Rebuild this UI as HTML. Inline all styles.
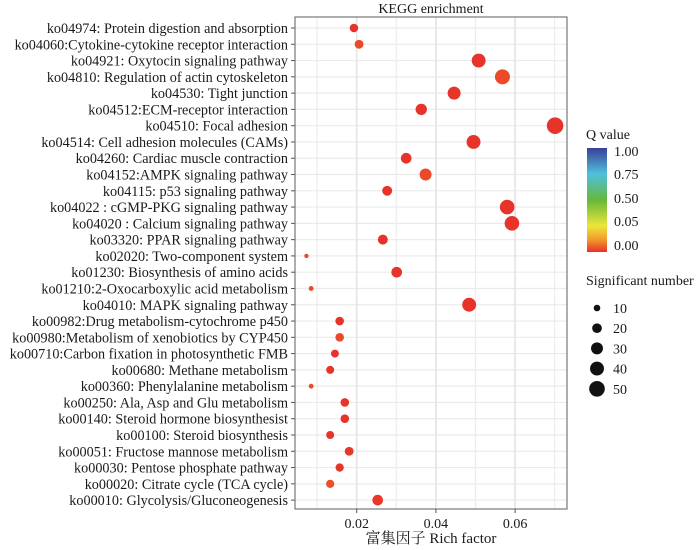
<!DOCTYPE html>
<html><head><meta charset="utf-8"><style>
body{margin:0;background:#fff}
svg text{font-family:"Liberation Serif","Noto Serif CJK SC",serif;fill:#1a1a1a}
</style></head><body>
<svg id="c" width="700" height="545" viewBox="0 0 700 545">
<defs><linearGradient id="qg" x1="0" y1="1" x2="0" y2="0">
<stop offset="0" stop-color="#e8302a"/><stop offset="0.12" stop-color="#f39a2a"/><stop offset="0.25" stop-color="#ece63a"/><stop offset="0.5" stop-color="#66b83a"/><stop offset="0.75" stop-color="#4fc0dc"/><stop offset="1" stop-color="#3a3f98"/></linearGradient></defs>
<g id="grid"></g><g id="ylab"></g><g id="xlab"></g><g id="pts"></g>
<text x="431" y="13" text-anchor="middle" font-size="14">KEGG enrichment</text>
<text x="431" y="543" text-anchor="middle" font-size="15">富集因子 Rich factor</text>
<g>
<text x="586" y="139" font-size="14">Q value</text>
<rect x="587" y="148" width="20" height="104" fill="url(#qg)"/>
<text x="614" y="156" font-size="14">1.00</text>
<text x="614" y="179" font-size="14">0.75</text>
<text x="614" y="203" font-size="14">0.50</text>
<text x="614" y="226" font-size="14">0.05</text>
<text x="614" y="250" font-size="14">0.00</text>
</g>
<g id="sizeleg">
<text x="586" y="285" font-size="14">Significant number</text>
</g>
</svg>
<script>
const categories=["ko04974: Protein digestion and absorption","ko04060:Cytokine-cytokine receptor interaction","ko04921: Oxytocin signaling pathway","ko04810: Regulation of actin cytoskeleton","ko04530: Tight junction","ko04512:ECM-receptor interaction","ko04510: Focal adhesion","ko04514: Cell adhesion molecules (CAMs)","ko04260: Cardiac muscle contraction","ko04152:AMPK signaling pathway","ko04115: p53 signaling pathway","ko04022 : cGMP-PKG signaling pathway","ko04020 : Calcium signaling pathway","ko03320: PPAR signaling pathway","ko02020: Two-component system","ko01230: Biosynthesis of amino acids","ko01210:2-Oxocarboxylic acid metabolism","ko04010: MAPK signaling pathway","ko00982:Drug metabolism-cytochrome p450","ko00980:Metabolism of xenobiotics by CYP450","ko00710:Carbon fixation in photosynthetic FMB","ko00680: Methane metabolism","ko00360: Phenylalanine metabolism","ko00250: Ala, Asp and Glu metabolism","ko00140: Steroid hormone biosynthesist","ko00100: Steroid biosynthesis","ko00051: Fructose mannose metabolism","ko00030: Pentose phosphate pathway","ko00020: Citrate cycle (TCA cycle)","ko00010: Glycolysis/Gluconeogenesis"];
const richFactor=[0.0193,0.0206,0.0508,0.0568,0.0446,0.0363,0.0701,0.0495,0.0325,0.0374,0.0277,0.058,0.0592,0.0266,0.0073,0.0301,0.0085,0.0484,0.0157,0.0157,0.0145,0.0133,0.0085,0.017,0.017,0.0133,0.0181,0.0157,0.0133,0.0253];
const counts=[16,17,40,46,35,27,56,40,24,30,21,44,44,21,5,24,6,40,16,16,14,14,6,16,16,14,17,15,15,24];
const qvalue=[0.001,0.02,0.001,0.02,0.001,0.001,0.001,0.001,0.001,0.02,0.001,0.001,0.001,0.001,0.02,0.001,0.02,0.001,0.001,0.02,0.001,0.001,0.02,0.001,0.001,0.001,0.005,0.001,0.025,0.005];
const xTicks=[0.02,0.04,0.06];
const sizeLegend=[10,20,30,40,50];
const NS='http://www.w3.org/2000/svg';
const L=295,R=567,T=17,B=509;
const x=v=>277.5+v*3960;
const y=i=>28+i*16.28;
const r=n=>Math.sqrt(Math.max(3,10.9+(n-10)*1.25));
function col(q){const t=Math.min(q/0.05,1);const a=[232,50,42],b=[240,110,40];return `rgb(${a.map((c,k)=>Math.round(c+(b[k]-c)*t)).join(',')})`;}
function mk(tag,at,parent){const e=document.createElementNS(NS,tag);for(const k in at)e.setAttribute(k,at[k]);parent.appendChild(e);return e;}
const grid=document.getElementById('grid');


mk('rect',{x:L,y:T,width:R-L,height:B-T,fill:'#fff'},grid);
for(let v=0.01;v<0.075;v+=0.01){mk('line',{x1:x(v),x2:x(v),y1:T,y2:B,stroke:'#ececec','stroke-width':1.2},grid);}
categories.forEach((c,i)=>{mk('line',{x1:L,x2:R,y1:y(i),y2:y(i),stroke:'#ebebeb','stroke-width':1.2},grid);});
xTicks.forEach(v=>{mk('line',{x1:x(v),x2:x(v),y1:T,y2:B,stroke:'#e4e4e4','stroke-width':1.6},grid);});
mk('rect',{x:L,y:T,width:R-L,height:B-T,fill:'none',stroke:'#777','stroke-width':1.2},grid);
const yl=document.getElementById('ylab');
categories.forEach((c,i)=>{
 const t=mk('text',{x:288,y:y(i)+5,'text-anchor':'end','font-size':14.2},yl);
 t.textContent=c;
 
 
 mk('line',{x1:291,x2:L,y1:y(i),y2:y(i),stroke:'#555'},yl);
});
const xl=document.getElementById('xlab');
xTicks.forEach(v=>{
 mk('line',{x1:x(v),x2:x(v),y1:B,y2:B+4,stroke:'#555'},xl);
 const t=mk('text',{x:x(v),y:B+19,'text-anchor':'middle','font-size':14},xl);
 t.textContent=v.toFixed(2);
 
 
});
const pts=document.getElementById('pts');
categories.forEach((c,i)=>{
 const e=mk('circle',{cx:x(richFactor[i]),cy:y(i),r:r(counts[i]),fill:col(qvalue[i])},pts);
 
 
});
const sl=document.getElementById('sizeleg');
sizeLegend.forEach((n,i)=>{
 const cy=308+i*20.2;
 mk('circle',{cx:597,cy:cy,r:r(n),fill:'#111'},sl);
 const t=mk('text',{x:613,y:cy+5,'font-size':14},sl);
 t.textContent=n;
 
 
});
</script>
</body></html>
